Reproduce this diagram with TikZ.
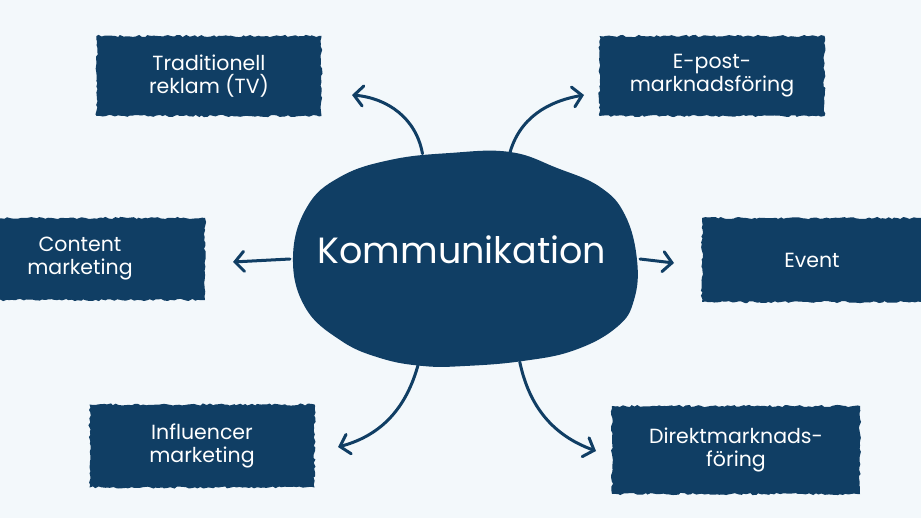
\documentclass[tikz,border=0pt]{standalone}
\usepackage{fontspec}
\setmainfont{Poppins}
\usetikzlibrary{arrows.meta,decorations.pathmorphing,shapes.geometric}
\definecolor{navy}{RGB}{16,62,100}
\definecolor{paper}{RGB}{243,248,251}
\begin{document}
\begin{tikzpicture}
[x=1pt, y=-1pt, line width=3pt,
brush/.style={fill=navy, text=white, align=center, inner sep=0pt,
    minimum width=225pt, minimum height=80pt,
    font=\fontsize{20.5}{23}\selectfont,
    decorate, decoration={random steps, segment length=3pt, amplitude=1.1pt}},
link/.style={draw=navy, line cap=round,
    -{Straight Barb[length=9pt, width=20pt, line cap=round]}}]

\pgfmathsetseed{7}
\fill[paper] (0,0) rectangle (921,518);
\useasboundingbox (0,0) rectangle (921,518);

% the blob in the middle
\fill[navy] plot[smooth cycle, tension=0.7] coordinates {
    (293,257) (307,207) (340,177) (390,160) (450,153) (510,152)
    (557,168) (600,187) (625,215) (637,260) (634,300) (617,327)
    (575,350) (523,361) (465,366) (423,366) (380,358) (340,340) (305,307)};
\node[ellipse, minimum width=347pt, minimum height=214pt, inner sep=0pt] (komm) at (465,259) {};
\node[text=white, font=\fontsize{36.5}{42}\selectfont] (kommtext) at (462,250) {Kommunikation};

% the six channels
\node[brush] (trad) at (209,76) {Traditionell\\reklam (TV)};
\node[brush] (epost) at (712,76) {E-post-\\marknadsföring};
\node[brush, minimum width=250pt, minimum height=82pt] (content) at (80,259) {Content\\marketing};
\node[brush, minimum width=220pt, minimum height=84pt] (event) at (812,260) {Event};
\node[brush, minimum height=83pt] (influencer) at (202,446) {Influencer\\marketing};
\node[brush, minimum width=248pt, minimum height=88pt] (direkt) at (736,450) {Direktmarknads-\\föring};

% arrow tips
\coordinate (tradtip) at (352,95);
\coordinate (eposttip) at (584,95);
\coordinate (contenttip) at (233,262);
\coordinate (eventtip) at (674,263);
\coordinate (influencertip) at (338,447);
\coordinate (direkttip) at (596,451);

\draw[link] (komm.112) to[out=100, in=-5] (tradtip);
\draw[link] (komm.67) to[out=75, in=190] (eposttip);
\draw[link] (komm.180) -- (contenttip);
\draw[link] (komm.0) -- (eventtip);
\draw[link] (komm.246) to[out=-105, in=15] (influencertip);
\draw[link] (komm.298) to[out=-78, in=160] (direkttip);

\end{tikzpicture}
\end{document}
